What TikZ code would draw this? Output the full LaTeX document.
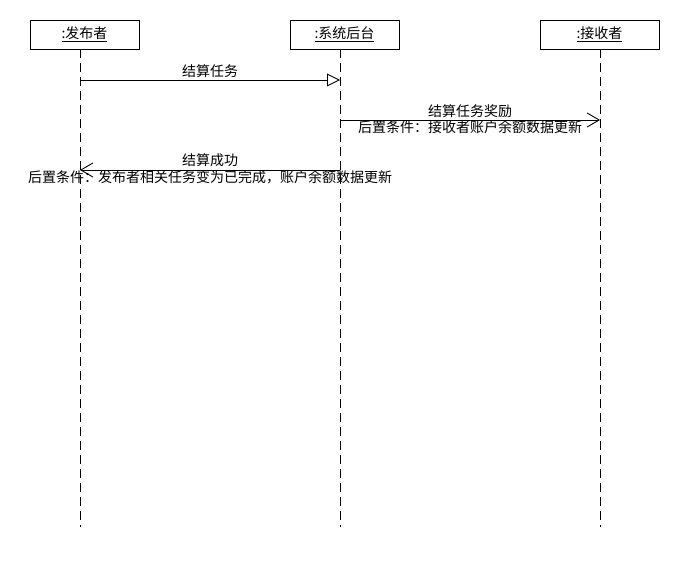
\documentclass[tikz,border=0pt]{standalone}
\usepackage{fontspec}
\setmainfont{Noto Sans CJK SC}
\usetikzlibrary{arrows.meta}
\begin{document}
\begin{tikzpicture}[x=1pt,y=-1pt,
  font=\fontsize{14}{16}\selectfont,
  obj/.style={draw,line width=1pt,minimum height=29pt,inner sep=0pt},
  lifeline/.style={line width=0.9pt,dash pattern=on 9pt off 5pt},
  msg/.style={line width=0.9pt},
  call/.style={msg,-{Triangle[open,length=13pt,width=13pt]}},
  reply/.style={msg,-{Straight Barb[length=12pt,width=14pt]}},
  lbl/.style={inner sep=0pt,anchor=base}]
  \useasboundingbox (0,0) rectangle (680,570);

  % participants
  \node[obj,minimum width=109pt] (pub) at (84.5,34.5) {\underline{:发布者}};
  \node[obj,minimum width=109pt] (sys) at (344.5,34.5) {\underline{:系统后台}};
  \node[obj,minimum width=119pt] (rec) at (599.5,34.5) {\underline{:接收者}};

  % lifeline ends
  \coordinate (pubE) at (80,527);
  \coordinate (sysE) at (340,527);
  \coordinate (recE) at (600,527);
  \draw[lifeline] (80,49) -- (pubE);
  \draw[lifeline] (340,49) -- (sysE);
  \draw[lifeline] (600,49) -- (recE);

  % message anchor points on lifelines
  \coordinate (p1) at (80,80);   \coordinate (s1) at (340,80);
  \coordinate (s2) at (340,120); \coordinate (r2) at (600,120);
  \coordinate (s3) at (340,170); \coordinate (p3) at (80,170);

  \draw[call] (p1) -- (s1);
  \node[lbl] (m1) at (210,76) {结算任务};

  \draw[reply] (s2) -- (r2);
  \node[lbl] (m2) at (470,116) {结算任务奖励};
  \node[lbl] (c2) at (470,132) {后置条件：接收者账户余额数据更新};

  \draw[reply] (s3) -- (p3);
  \node[lbl] (m3) at (210,165) {结算成功};
  \node[lbl] (c3) at (210,182) {后置条件：发布者相关任务变为已完成，账户余额数据更新};
\end{tikzpicture}
\end{document}
